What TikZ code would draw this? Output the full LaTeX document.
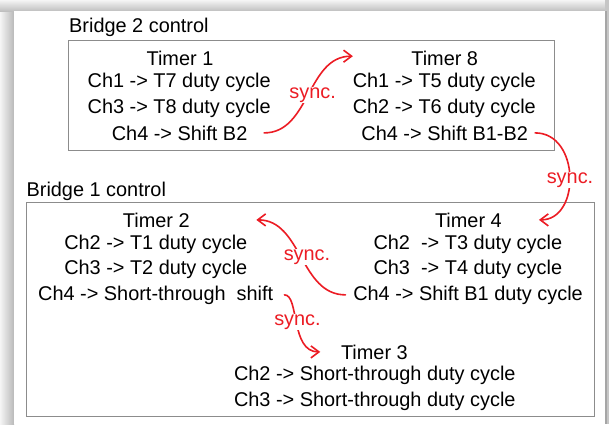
\documentclass[tikz,border=0pt]{standalone}
\usepackage{fontspec}
\setmainfont{Liberation Sans}
\usetikzlibrary{arrows.meta}
\definecolor{syncred}{RGB}{236,28,36}
\definecolor{framegray}{RGB}{140,140,140}
\begin{document}
\begin{tikzpicture}[x=1pt,y=-1pt,
  txt/.style={anchor=base, inner sep=0pt, font=\fontsize{19.9pt}{24pt}\selectfont},
  ttl/.style={txt, anchor=base west},
  panel/.style={draw=framegray, line width=1pt},
  syncline/.style={draw=syncred, line width=1.6pt, line cap=round,
    -{Straight Barb[length=8pt,width=12pt]}},
  synclbl/.style={txt, anchor=center, text=syncred, fill=white, inner sep=1pt}]
\useasboundingbox (0,0) rectangle (609,424);

% page with its drop shadow
\shade[left color=gray!8, right color=gray!55] (0,0) rectangle (14,424);
\shade[top color=gray!8, bottom color=gray!50] (0,0) rectangle (609,11);
\fill[gray!45] (605,0) rectangle (609,424);
\fill[gray!70] (605,11) rectangle (606.5,424);
\fill[white] (14,11) rectangle (605,424);

% Bridge 2 panel
\node[ttl] (lbl2) at (69,32) {Bridge 2 control};
\draw[panel] (68.7,40) rectangle (554.6,150);
\node[txt] (t1)  at (180,65)   {Timer 1};
\node[txt] (t1a) at (179.2,87) {Ch1 -> T7 duty cycle};
\node[txt] (t1b) at (179.2,113) {Ch3 -> T8 duty cycle};
\node[txt] (t1c) at (179.6,140) {Ch4 -> Shift B2};
\node[txt] (t8)  at (444.7,65)  {Timer 8};
\node[txt] (t8a) at (444.3,87)  {Ch1 -> T5 duty cycle};
\node[txt] (t8b) at (444.3,113) {Ch2 -> T6 duty cycle};
\node[txt] (t8c) at (444.7,140) {Ch4 -> Shift B1-B2};

% Bridge 1 panel
\node[ttl] (lbl1) at (26.4,196) {Bridge 1 control};
\draw[panel] (26.4,202) rectangle (594,416);
\node[txt] (t2)  at (156.3,227) {Timer 2};
\node[txt] (t2a) at (155.8,249) {Ch2 -> T1 duty cycle};
\node[txt] (t2b) at (155.8,274) {Ch3 -> T2 duty cycle};
\node[txt] (t2c) at (155.7,300) {Ch4 -> Short-through~ shift};
\node[txt] (t4)  at (468.4,227) {Timer 4};
\node[txt] (t4a) at (467.8,249) {Ch2~ -> T3 duty cycle};
\node[txt] (t4b) at (467.8,274) {Ch3~ -> T4 duty cycle};
\node[txt] (t4c) at (468,300)   {Ch4 -> Shift B1 duty cycle};
\node[txt] (t3)  at (374.4,359) {Timer 3};
\node[txt] (t3a) at (374.8,380) {Ch2 -> Short-through duty cycle};
\node[txt] (t3b) at (374.8,406) {Ch3 -> Short-through duty cycle};

% synchronisation links
\draw[syncline] ([xshift=16.6pt]t1c.east) to[out=0,in=180]
  ([xshift=-58.3pt,yshift=1.7pt]t8.west);
\node[synclbl] (s1) at (312.6,95) {sync.};

\draw[syncline] ([xshift=7pt]t8c.east) .. controls +(45,0) and +(42,0) ..
  ([xshift=37pt]t4.east);
\node[synclbl] (s2) at (570,180) {sync.};

\draw[syncline] ([xshift=-7.6pt]t4c.west) to[out=180,in=0]
  ([xshift=66.5pt]t2.east);
\node[synclbl] (s3) at (307,257) {sync.};

\draw[syncline] ([xshift=11pt]t2c.east) .. controls +(15,0) and +(-30,0) ..
  ([xshift=-20.6pt]t3.west);
\node[synclbl] (s4) at (297.5,322) {sync.};
\end{tikzpicture}
\end{document}
